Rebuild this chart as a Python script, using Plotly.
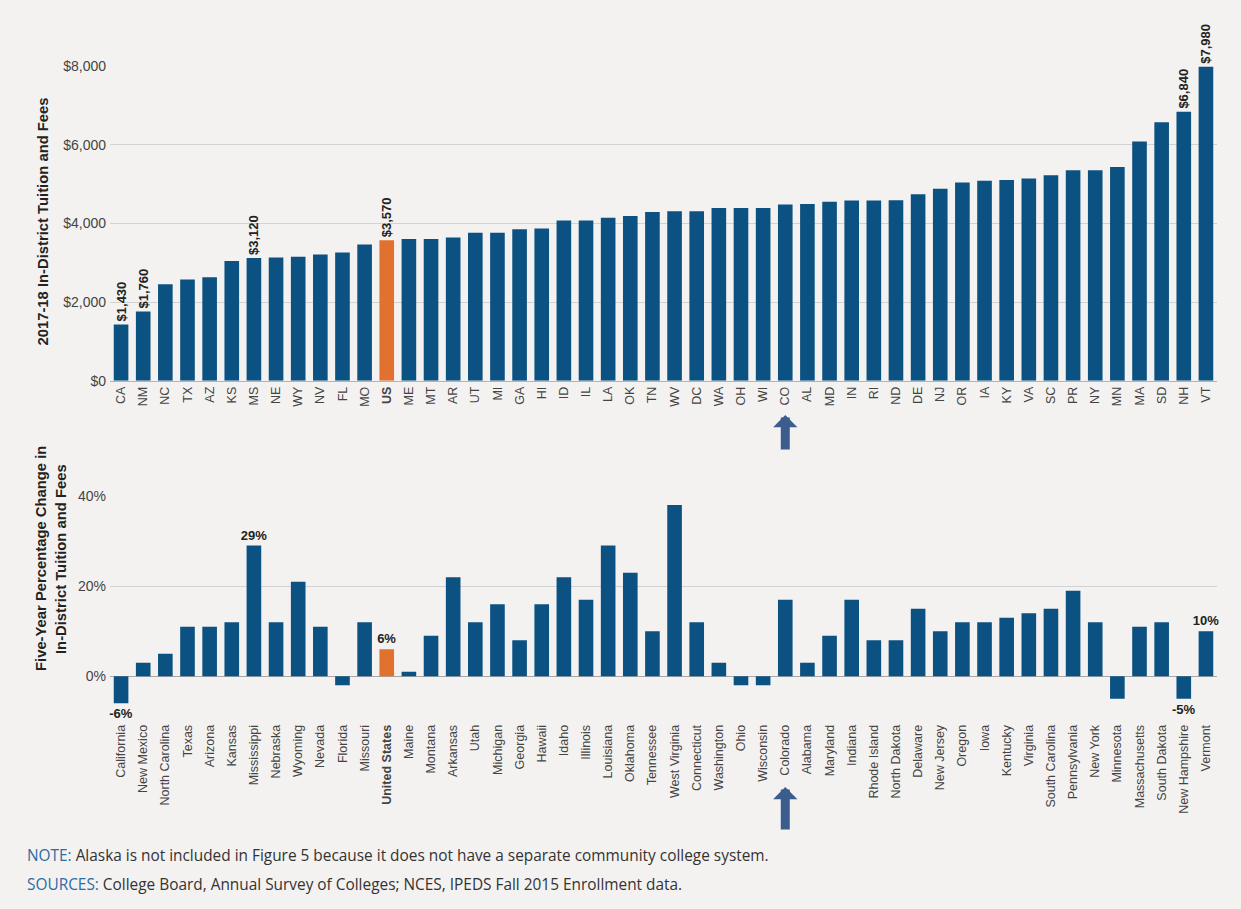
import plotly.graph_objects as go

abbr = ["CA","NM","NC","TX","AZ","KS","MS","NE","WY","NV","FL","MO","US","ME","MT","AR","UT","MI","GA","HI",
        "ID","IL","LA","OK","TN","WV","DC","WA","OH","WI","CO","AL","MD","IN","RI","ND","DE","NJ","OR","IA",
        "KY","VA","SC","PR","NY","MN","MA","SD","NH","VT"]
tuition = [1430,1760,2450,2570,2630,3040,3120,3130,3150,3210,3260,3460,3570,3600,3600,3640,3760,3760,3850,3870,
           4070,4070,4140,4190,4290,4310,4310,4390,4390,4390,4480,4490,4550,4580,4580,4590,4740,4880,5040,5080,
           5100,5140,5220,5350,5350,5430,6080,6570,6840,7980]
tuition_labeled = ["CA","NM","MS","US","NH","VT"]

names = ["California","New Mexico","North Carolina","Texas","Arizona","Kansas","Mississippi","Nebraska","Wyoming",
         "Nevada","Florida","Missouri","United States","Maine","Montana","Arkansas","Utah","Michigan","Georgia",
         "Hawaii","Idaho","Illinois","Louisiana","Oklahoma","Tennessee","West Virginia","Connecticut","Washington",
         "Ohio","Wisconsin","Colorado","Alabama","Maryland","Indiana","Rhode Island","North Dakota","Delaware",
         "New Jersey","Oregon","Iowa","Kentucky","Virginia","South Carolina","Pennsylvania","New York","Minnesota",
         "Massachusetts","South Dakota","New Hampshire","Vermont"]
change = [-6,3,5,11,11,12,29,12,21,11,-2,12,6,1,9,22,12,16,8,16,
          22,17,29,23,10,38,12,3,-2,-2,17,3,9,17,8,8,15,10,12,12,
          13,14,15,19,12,-5,11,12,-5,10]
change_labeled = ["California","Mississippi","United States","New Hampshire","Vermont"]

top_ticks = [0, 2000, 4000, 6000, 8000]
bottom_ticks = [0, 20, 40]

BLUE = "#0b5181"
ORANGE = "#e0712f"
BG = "#f4f2f1"
FONT = "Liberation Sans, Arial, sans-serif"

top_colors = [ORANGE if a == "US" else BLUE for a in abbr]
bot_colors = [ORANGE if n == "United States" else BLUE for n in names]
top_text = [f"<b>${v:,}</b>" if a in tuition_labeled else "" for a, v in zip(abbr, tuition)]
bot_text = [f"<b>{v}%</b>" if n in change_labeled else "" for n, v in zip(names, change)]

fig = go.Figure()
fig.add_trace(go.Bar(x=abbr, y=tuition, marker=dict(color=top_colors, line=dict(width=0)),
                     text=top_text, textposition="outside", textangle=-90, cliponaxis=False,
                     constraintext="none",
                     textfont=dict(family=FONT, size=13, color="#222222"),
                     xaxis="x", yaxis="y", showlegend=False))
fig.add_trace(go.Bar(x=names, y=change, marker=dict(color=bot_colors, line=dict(width=0)),
                     text=bot_text, textposition="outside", textangle=0, cliponaxis=False,
                     constraintext="none",
                     textfont=dict(family=FONT, size=13, color="#222222"),
                     xaxis="x2", yaxis="y2", showlegend=False))

W, H = 1241, 909
xdom = [110 / W, 1217 / W]

fig.update_layout(
    width=W, height=H, autosize=False, paper_bgcolor=BG, plot_bgcolor=BG,
    margin=dict(l=0, r=0, t=0, b=0, autoexpand=False), bargap=0.34,
    font=dict(family=FONT, color="#444444"),
    xaxis=dict(domain=xdom, anchor="y", type="category", tickangle=-90, automargin=False,
               tickvals=abbr, ticktext=[f"<b>{a}</b>" if a == "US" else a for a in abbr],
               tickfont=dict(size=12.5, color="#444444"), showgrid=False,
               showline=True, linecolor="#b5b3b3", linewidth=1, ticks=""),
    yaxis=dict(domain=[1 - 380.7 / H, 1 - 66 / H], anchor="x", range=[0, 8000], automargin=False,
               tickvals=top_ticks, ticktext=[f"${v:,}" for v in top_ticks], ticklabelstandoff=3,
               tickfont=dict(size=14, color="#444444"), showgrid=True, gridcolor="#d3d1d1",
               gridwidth=1, zeroline=False, showline=False, ticks=""),
    xaxis2=dict(domain=xdom, anchor="y2", type="category", tickangle=-90, automargin=False,
                tickvals=names, ticktext=[f"<b>{n}</b>" if n == "United States" else n for n in names],
                tickfont=dict(size=12.5, color="#444444"), showgrid=False, showline=False, ticks=""),
    yaxis2=dict(domain=[1 - 721.4 / H, 1 - 496 / H], anchor="x2", range=[-10, 40], automargin=False,
                tickvals=bottom_ticks, ticktext=[f"{v}%" for v in bottom_ticks], ticklabelstandoff=3,
                tickfont=dict(size=14, color="#444444"), showgrid=True, gridcolor="#d3d1d1",
                zeroline=True, zerolinecolor="#a9a7a7", zerolinewidth=1, ticks=""),
)

FOOT = "Open Sans, Liberation Sans, Arial, sans-serif"
annos = [
    dict(text="<b>2017-18 In-District Tuition and Fees</b>", xref="paper", yref="paper",
         x=43 / W, y=1 - 221.5 / H, xanchor="center", yanchor="middle", textangle=-90,
         showarrow=False, font=dict(size=14.8, color="#222222", family=FONT)),
    dict(text="<b>Five-Year Percentage Change in</b>", xref="paper", yref="paper",
         x=41 / W, y=1 - 559 / H, xanchor="center", yanchor="middle", textangle=-90,
         showarrow=False, font=dict(size=14.8, color="#222222", family=FONT)),
    dict(text="<b>In-District Tuition and Fees</b>", xref="paper", yref="paper",
         x=61 / W, y=1 - 559 / H, xanchor="center", yanchor="middle", textangle=-90,
         showarrow=False, font=dict(size=14.8, color="#222222", family=FONT)),
    dict(text="<span style='color:#2b6ca3'>NOTE:</span> Alaska is not included in Figure 5 because it does not have a separate community college system.",
         xref="paper", yref="paper", x=25 / W, y=1 - 855 / H, xanchor="left", yanchor="middle",
         showarrow=False, font=dict(size=15.4, color="#333333", family=FOOT)),
    dict(text="<span style='color:#2b6ca3'>SOURCES:</span> College Board, Annual Survey of Colleges; NCES, IPEDS Fall 2015 Enrollment data.",
         xref="paper", yref="paper", x=25 / W, y=1 - 884 / H, xanchor="left", yanchor="middle",
         showarrow=False, font=dict(size=15.4, color="#333333", family=FOOT)),
    dict(text="", x="CO", xref="x", y=1 - 415 / H, yref="paper", showarrow=True,
         ax=0, ay=36, arrowhead=1, arrowwidth=9, arrowsize=0.45, arrowcolor="#3a5d8e", standoff=0),
    dict(text="", x="Colorado", xref="x2", y=1 - 787 / H, yref="paper", showarrow=True,
         ax=0, ay=44, arrowhead=1, arrowwidth=9, arrowsize=0.45, arrowcolor="#3a5d8e", standoff=0),
]
fig.update_layout(annotations=annos)

fig.write_html(
    "out.html",
    config={"responsive": False, "displayModeBar": False},
    post_script="document.body.style.margin='0';document.body.style.padding='0';"
                "document.body.style.overflow='hidden';document.body.style.background='" + BG + "';",
)
